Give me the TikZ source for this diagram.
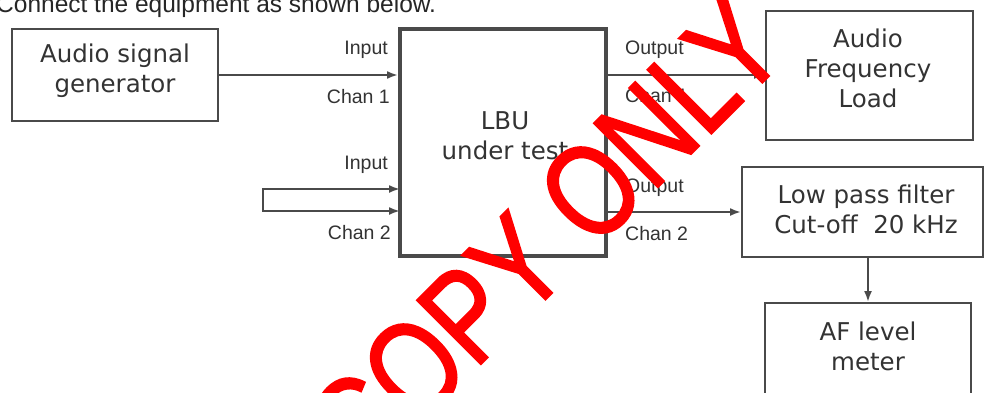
\documentclass[tikz,border=0pt]{standalone}
\usepackage{graphicx}
\usepackage{fontspec}
\setmainfont{DejaVu Sans}
\newfontfamily\arialf{Liberation Sans}
\newfontfamily\wmfont[FakeBold=1.6]{Liberation Sans}
\usetikzlibrary{arrows.meta}
\definecolor{lineg}{HTML}{4A4A4A}
\definecolor{txtg}{HTML}{333333}
\definecolor{wmred}{HTML}{FF0000}
\tikzset{
  blockbox/.style={draw=lineg, line width=2pt, rectangle, inner sep=0pt},
  lbubox/.style={draw=lineg, line width=4pt, rectangle, inner sep=0pt},
  boxtext/.style={text=txtg, align=center, inner sep=0pt, font=\fontsize{24.5}{30}\selectfont},
  portlabel/.style={text=txtg, inner sep=0pt, font=\arialf\fontsize{19.5}{22}\selectfont},
  conn/.style={draw=lineg, line width=2pt, -{Latex[length=11pt,width=8pt]}},
  conn2/.style={draw=lineg, line width=2pt, {Latex[length=11pt,width=8pt]}-{Latex[length=11pt,width=8pt]}},
  wmark/.style={text=wmred, inner sep=0pt, font=\wmfont\fontsize{131}{131}\selectfont}
}
\begin{document}
\begin{tikzpicture}[x=1pt,y=-1pt]
\useasboundingbox (0,0) rectangle (985,392);
\clip (0,0) rectangle (985,392);
\fill[white] (0,0) rectangle (985,392);

% heading (cut at top)
\node[anchor=base west, inner sep=0pt, text=black!85, font=\arialf\fontsize{24.5}{28}\selectfont] (head) at (-4,12.5) {Connect the equipment as shown below.};

% boxes
\node[blockbox, minimum width=206pt, minimum height=92pt] (gen) at (115,75) {};
\node[boxtext] (gent) at (115,71) {Audio signal\\generator};

\node[lbubox, minimum width=206pt, minimum height=227pt] (lbu) at (503,142.5) {};
\node[boxtext] (lbut) at (505,136) {LBU\\under test};

\node[blockbox, minimum width=207pt, minimum height=129pt] (afl) at (869.5,75.5) {};
\node[boxtext] (aflt) at (868,68) {Audio\\Frequency\\Load};

\node[blockbox, minimum width=241pt, minimum height=90pt] (lpf) at (862.5,212) {};
\node[boxtext] (lpft) at (866,209.5) {Low pass filter\\Cut-off\ \ 20 kHz};

\node[blockbox, minimum width=206pt, minimum height=100pt] (afm) at (868,353) {};
\node[boxtext] (afmt) at (868,346) {AF level\\meter};

% connectors
\draw[conn] (gen.east) -- (gen.east -| lbu.west);
\coordinate (i2a) at (400,189);
\coordinate (i2b) at (400,211);
\coordinate (lp) at (263,189);
\draw[conn2] (i2a) -- (lp) -- (lp |- i2b) -- (i2b);
\draw[conn] (lbu.east |- gen.east) -- (afl.west |- gen.east);
\draw[conn] (lbu.east |- lpf.west) -- (lpf.west);
\draw[conn] (afm.north |- lpf.south) -- (afm.north);

% port labels
\node[portlabel, anchor=east] (in1) at (388,50) {Input};
\node[portlabel, anchor=east] (ch1) at (390,97) {Chan 1};
\node[portlabel, anchor=east] (in2) at (388,165) {Input};
\node[portlabel, anchor=east] (ch2) at (391,233) {Chan 2};
\node[portlabel, anchor=west] (out1) at (625,50) {Output};
\node[portlabel, anchor=west] (och1) at (625,96) {Chan 1};
\node[portlabel, anchor=west] (out2) at (625,188) {Output};
\node[portlabel, anchor=west] (och2) at (625,234) {Chan 2};

% watermark
\node[wmark, rotate=45] (wm) at (545,236) {\scalebox{0.8}[1]{COPY ONLY}};
\end{tikzpicture}
\end{document}
